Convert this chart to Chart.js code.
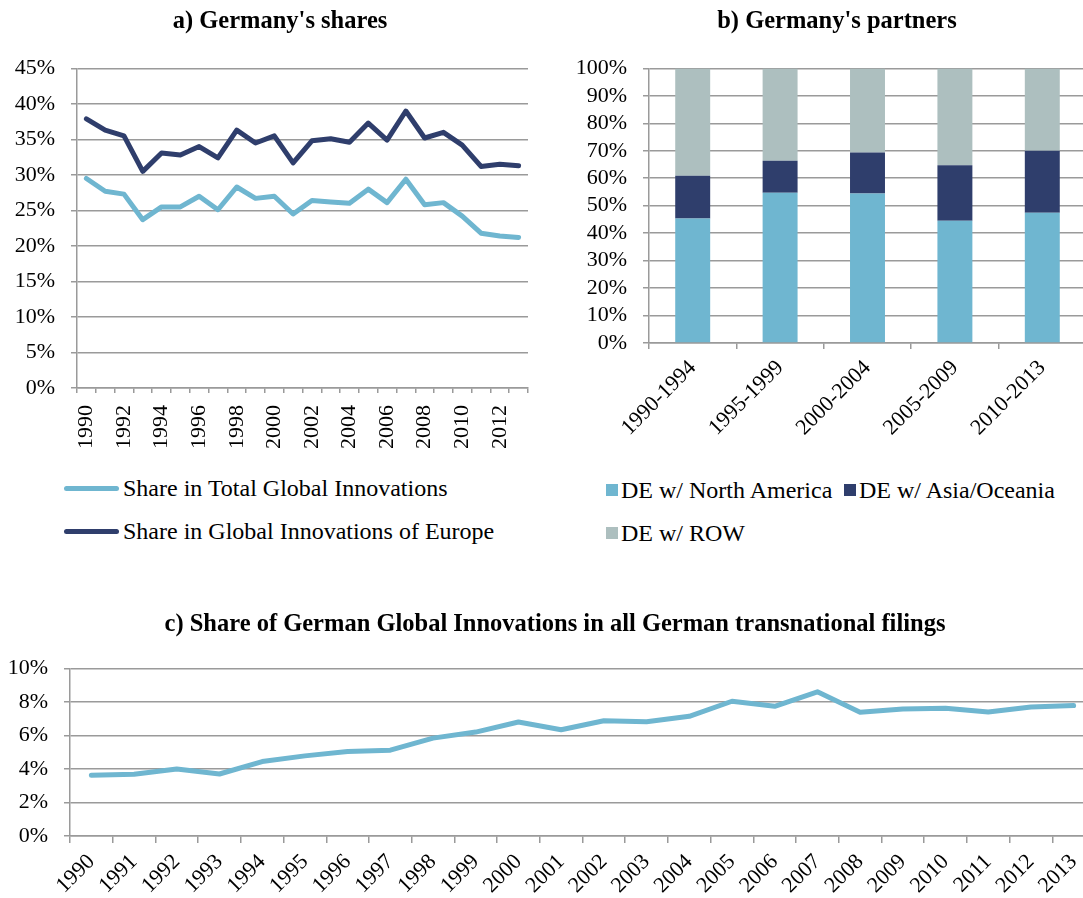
<!DOCTYPE html>
<html>
<head>
<meta charset="utf-8">
<script src="https://cdn.jsdelivr.net/npm/chart.js@4.4.1/dist/chart.umd.min.js"></script>
<style>
body { margin:0; width:1083px; height:898px; overflow:hidden; background:#fff; position:relative;
       font-family:"Liberation Serif","Times New Roman",serif; }
.box { position:absolute; }
.lg { position:absolute; font-size:24px; color:#000; white-space:nowrap; line-height:28px; transform:translateY(-50%); }
.sw { position:absolute; }
</style>
</head>
<body>
<div class="box" style="left:0;top:0;width:560px;height:470px"><canvas id="chartA"></canvas></div>
<div class="box" style="left:555px;top:0;width:564px;height:470px"><canvas id="chartB"></canvas></div>
<div class="box" style="left:0;top:590px;width:1110px;height:308px"><canvas id="chartC"></canvas></div>
<div id="legends"></div>
<script>
// data
const years = ['1990','1991','1992','1993','1994','1995','1996','1997','1998','1999','2000','2001',
               '2002','2003','2004','2005','2006','2007','2008','2009','2010','2011','2012','2013'];
const shareTotal  = [29.5,27.7,27.3,23.7,25.5,25.5,27.0,25.1,28.3,26.7,27.0,24.5,26.4,26.2,26.0,28.0,26.1,29.4,25.8,26.1,24.2,21.8,21.4,21.2];
const shareEurope = [37.9,36.3,35.5,30.5,33.1,32.8,34.0,32.4,36.3,34.5,35.5,31.7,34.8,35.1,34.6,37.3,34.9,39.0,35.2,36.0,34.2,31.2,31.5,31.3];

const periods = ['1990-1994','1995-1999','2000-2004','2005-2009','2010-2013'];
const withNorthAmerica = [45.3,54.7,54.4,44.5,47.4];
const withAsiaOceania  = [15.6,11.7,15.0,20.2,22.6];
const withRow          = [39.1,33.6,30.6,35.3,30.0];

const transnationalShare = [3.62,3.68,4.0,3.7,4.44,4.78,5.04,5.12,5.84,6.2,6.8,6.34,6.88,6.82,7.14,8.04,7.74,8.6,7.38,7.58,7.62,7.4,7.7,7.78];

const LIGHT = '#6fb6d0', DARK = '#2f3e6c', GREY = '#adbfbf', GRID = '#9a9a9a';
const FONT = '"Liberation Serif","Times New Roman",serif';

Chart.defaults.color = '#000';
Chart.defaults.font.family = FONT;
Chart.defaults.font.size = 22;
Chart.defaults.animation = false;

function yAxis(max, step, width) {
    return {
        min: 0, max: max,
        ticks: { stepSize: step, padding: 16, autoSkip: false, callback: v => v + '%' },
        grid: { color: GRID, lineWidth: 1.5, tickLength: 6 },
        border: { display: true, color: GRID, width: 1.5 },
        afterFit: s => { s.width = width; }
    };
}
// empty right-hand axis, only keeps the plot away from the right edge so the title stays centred on the canvas
function spacer(width) {
    return {
        position: 'right', grid: { display: false }, border: { display: false }, ticks: { display: false },
        afterFit: s => { s.width = width; }
    };
}
function xAxis(height, rot, tickLen, pad) {
    return {
        offset: true,
        grid: { offset: true, drawOnChartArea: false, color: GRID, lineWidth: 1.5, tickLength: tickLen },
        border: { display: true, color: GRID, width: 1.5 },
        ticks: { autoSkip: false, minRotation: rot, maxRotation: rot, padding: pad },
        afterFit: s => { s.height = height; }
    };
}
function title(text, top, bottom) {
    return { display: true, text: text, color: '#000',
             font: { family: FONT, size: 24.5, weight: 'bold' }, padding: { top: top, bottom: bottom } };
}

const xa = xAxis(82, 90, 5, 12);
xa.ticks.callback = (v, i) => i % 2 === 0 ? years[i] : '';

new Chart(document.getElementById('chartA'), {
    type: 'line',
    data: {
        labels: years,
        datasets: [
            { label: 'Share in Total Global Innovations', data: shareTotal, borderColor: LIGHT },
            { label: 'Share in Global Innovations of Europe', data: shareEurope, borderColor: DARK }
        ]
    },
    options: {
        responsive: true, maintainAspectRatio: false,
        layout: { padding: 0 },
        elements: { line: { borderWidth: 5, tension: 0, borderCapStyle: 'round', borderJoinStyle: 'round' },
                    point: { radius: 0 } },
        scales: { x: xa, y: yAxis(45, 5, 77), pad: spacer(32) },
        plugins: { legend: { display: false }, tooltip: { enabled: false },
                   title: title("a) Germany's shares", 7, 32) }
    }
});

const xb = xAxis(127, 45, 6, 6);
xb.stacked = true;
const yb = yAxis(100, 10, 94);
yb.stacked = true;

new Chart(document.getElementById('chartB'), {
    type: 'bar',
    data: {
        labels: periods,
        datasets: [
            { label: 'DE w/ North America', data: withNorthAmerica, backgroundColor: LIGHT },
            { label: 'DE w/ Asia/Oceania', data: withAsiaOceania, backgroundColor: DARK },
            { label: 'DE w/ ROW', data: withRow, backgroundColor: GREY }
        ]
    },
    options: {
        responsive: true, maintainAspectRatio: false,
        layout: { padding: 0 },
        datasets: { bar: { categoryPercentage: 1, barPercentage: 0.4 } },
        scales: { x: xb, y: yb, pad: spacer(33) },
        plugins: { legend: { display: false }, tooltip: { enabled: false },
                   title: title("b) Germany's partners", 7, 32) }
    }
});

new Chart(document.getElementById('chartC'), {
    type: 'line',
    data: {
        labels: years,
        datasets: [{ label: 'German Global Innovations', data: transnationalShare, borderColor: LIGHT }]
    },
    options: {
        responsive: true, maintainAspectRatio: false,
        layout: { padding: 0 },
        elements: { line: { borderWidth: 5, tension: 0, borderCapStyle: 'round', borderJoinStyle: 'round' },
                    point: { radius: 0 } },
        scales: { x: xAxis(62, 45, 7, 6), y: yAxis(10, 2, 70), pad: spacer(15) },
        plugins: { legend: { display: false }, tooltip: { enabled: false },
                   title: title('c) Share of German Global Innovations in all German transnational filings', 20, 29) }
    }
});

// legends below charts a and b
const legendItems = [
    { text: 'Share in Total Global Innovations', color: LIGHT, line: true, x: 64, y: 488 },
    { text: 'Share in Global Innovations of Europe', color: DARK, line: true, x: 64, y: 531 },
    { text: 'DE w/ North America', color: LIGHT, x: 606, y: 490 },
    { text: 'DE w/ Asia/Oceania', color: DARK, x: 844, y: 490 },
    { text: 'DE w/ ROW', color: GREY, x: 606, y: 533 }
];
const lg = document.getElementById('legends');
legendItems.forEach(it => {
    const sw = document.createElement('div');
    sw.className = 'sw';
    sw.style.background = it.color;
    if (it.line) {
        sw.style.left = it.x + 'px'; sw.style.top = (it.y - 2.5) + 'px';
        sw.style.width = '55px'; sw.style.height = '5px'; sw.style.borderRadius = '3px';
    } else {
        sw.style.left = it.x + 'px'; sw.style.top = (it.y - 6) + 'px';
        sw.style.width = '12px'; sw.style.height = '12px';
    }
    lg.appendChild(sw);
    const t = document.createElement('div');
    t.className = 'lg';
    t.textContent = it.text;
    t.style.left = (it.x + (it.line ? 59 : 15)) + 'px';
    t.style.top = it.y + 'px';
    lg.appendChild(t);
});
</script>
</body>
</html>
